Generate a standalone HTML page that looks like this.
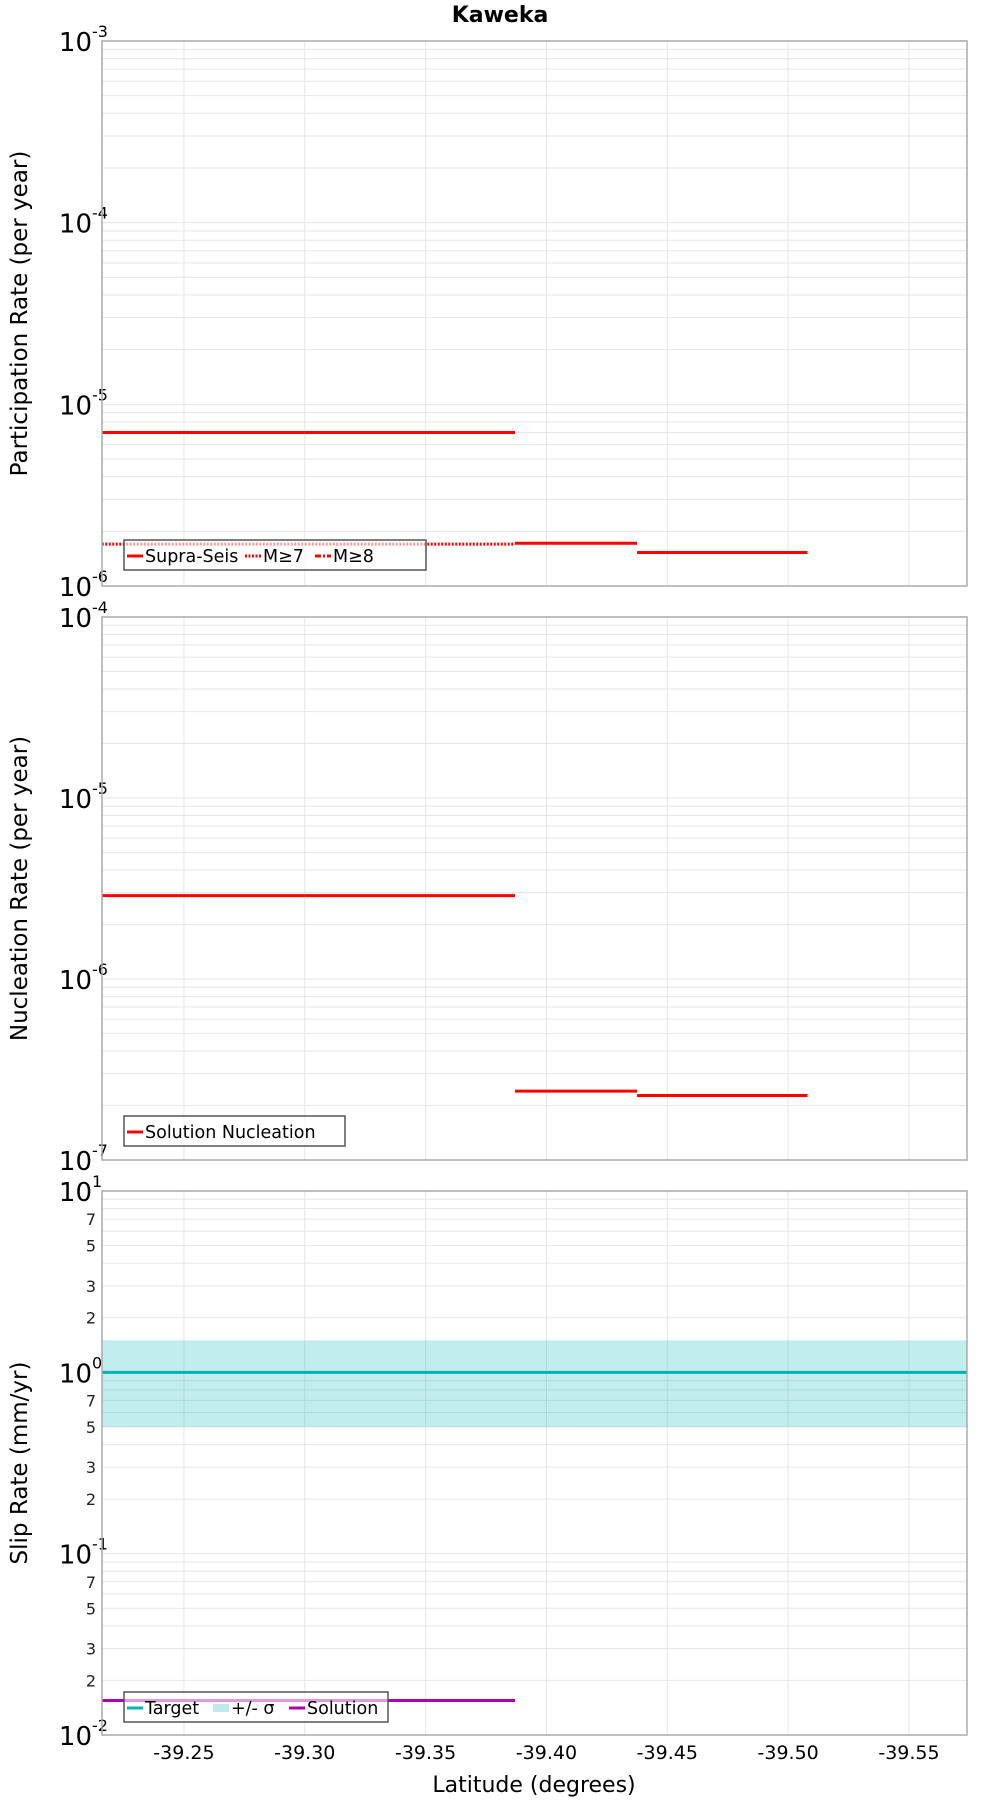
<!DOCTYPE html>
<html><head><meta charset="utf-8"><style>
body{margin:0;background:#fff;}
svg{display:block;font-family:"DejaVu Sans","Liberation Sans",sans-serif;}
</style></head><body>
<svg id="chart" width="1000" height="1800" viewBox="0 0 1000 1800" xmlns="http://www.w3.org/2000/svg">
<text x="500" y="22" text-anchor="middle" font-size="22" font-weight="bold">Kaweka</text>
<text x="534" y="1792" text-anchor="middle" font-size="22">Latitude (degrees)</text>
</svg>
<script>
// x tick values
const xTicks = [-39.25, -39.30, -39.35, -39.40, -39.45, -39.50, -39.55];
const xTickLabels = ["-39.25", "-39.30", "-39.35", "-39.40", "-39.45", "-39.50", "-39.55"];
// participation segments
const partStart = [-39.216, -39.300, -39.387, -39.4375];
const partEnd   = [-39.300, -39.387, -39.4375, -39.508];
const partRate  = [7.0e-6, 7.0e-6, 1.72e-6, 1.53e-6];
const m7Start = [-39.216];
const m7End = [-39.387];
const m7Rate = [1.70e-6];
// nucleation segments
const nuclStart = [-39.216, -39.300, -39.387, -39.4375];
const nuclEnd   = [-39.300, -39.387, -39.4375, -39.508];
const nuclRate  = [2.89e-6, 2.89e-6, 2.40e-7, 2.27e-7];
// slip
const targetSlip = [1.0];
const sigmaLow = [0.5];
const sigmaHigh = [1.5];
const solStart = [-39.216, -39.300];
const solEnd = [-39.300, -39.387];
const solSlip = [0.0155, 0.0155];

const NS = "http://www.w3.org/2000/svg";
const svg = document.getElementById('chart');
const L = 102, R = 967;
const xMin = -39.2161, xMax = -39.574;
function xs(v){ return L + (v - xMin) / (xMax - xMin) * (R - L); }
function mk(tag, attrs, parent){
  const e = document.createElementNS(NS, tag);
  for (const k in attrs) e.setAttribute(k, attrs[k]);
  (parent || svg).appendChild(e);
  return e;
}
const panels = [
  {name:'participation', top:41, bot:586, e0:-6, e1:-3, title:'Participation Rate (per year)', minorLabels:false},
  {name:'nucleation', top:617, bot:1160, e0:-7, e1:-4, title:'Nucleation Rate (per year)', minorLabels:false},
  {name:'slip', top:1191, bot:1735, e0:-2, e1:1, title:'Slip Rate (mm/yr)', minorLabels:true}
];
function ysFor(p){ return v => p.bot - (Math.log10(v) - p.e0) / (p.e1 - p.e0) * (p.bot - p.top); }

panels.forEach((p, pi) => {
  const ys = ysFor(p);
  const g = mk('g', {});
  
  
  for (let e = p.e0; e < p.e1; e++) {
    for (let m = 1; m <= 9; m++) {
      const v = m * Math.pow(10, e);
      const y = ys(v);
      const gl = mk('line', {x1:L, x2:R, y1:y, y2:y, stroke:'#e6e6e6', 'stroke-width':1}, g);
      
      
      if (p.minorLabels && [2,3,5,7].includes(m)) {
        const t = mk('text', {x:L-6, y:y+6, 'text-anchor':'end', 'font-size':16, fill:'#222'}, g);
        
        
        t.textContent = m;
      }
    }
  }
  xTicks.forEach(v => {
    const x = xs(v);
    const gl = mk('line', {x1:x, x2:x, y1:p.top, y2:p.bot, stroke:'#e6e6e6', 'stroke-width':1}, g);
    
    
  });
  for (let e = p.e0; e <= p.e1; e++) {
    const y = ys(Math.pow(10, e));
    const t = mk('text', {x:L-10, y:y+10, 'text-anchor':'end', 'font-size':26}, g);
    
    
    t.textContent = '10';
    const s = mk('text', {x:L-10, y:y-4, 'text-anchor':'start', 'font-size':16}, g);
    
    
    s.textContent = String(e);
  }
  const cy = (p.top + p.bot) / 2;
  const at = mk('text', {x:0, y:0, transform:`translate(27 ${cy}) rotate(-90)`, 'text-anchor':'middle', 'font-size':23}, g);
  
  
  at.textContent = p.title;
  p.g = g; p.ys = ys;
});

function seg(p, s, e, v, color, dash, name, w){
  const ln = mk('line', {x1:xs(s), x2:xs(e), y1:p.ys(v), y2:p.ys(v), stroke:color, 'stroke-width':w||3}, p.g);
  if (dash) ln.setAttribute('stroke-dasharray', dash);
  
  
}
const P1 = panels[0], P2 = panels[1], P3 = panels[2];
m7Start.forEach((s,i) => seg(P1, s, m7End[i], m7Rate[i], '#ff0000', '2,1.5', 'm7-segment', 3));
partStart.forEach((s,i) => seg(P1, s, partEnd[i], partRate[i], '#ff0000', null, 'supra-seis-segment', 3));
nuclStart.forEach((s,i) => seg(P2, s, nuclEnd[i], nuclRate[i], '#ff0000', null, 'nucleation-segment', 3));
const band = mk('rect', {x:L, width:R-L, y:P3.ys(sigmaHigh[0]), height:P3.ys(sigmaLow[0]) - P3.ys(sigmaHigh[0]), fill:'#00b2b2', 'fill-opacity':0.24}, P3.g);


seg(P3, xMin, xMax, targetSlip[0], '#00b2b2', null, 'target-line', 3);
solStart.forEach((s,i) => seg(P3, s, solEnd[i], solSlip[i], '#b000b0', null, 'solution-segment', 3));

panels.forEach(p => {
  const f = mk('rect', {x:L, y:p.top, width:R-L, height:p.bot-p.top, fill:'none', stroke:'#aaaaaa', 'stroke-width':1.5}, p.g);
  
  
});
xTicks.forEach((v,i) => {
  const t = mk('text', {x:xs(v), y:1759, 'text-anchor':'middle', 'font-size':19});
  
  
  t.textContent = xTickLabels[i];
});
function legend(p, x, y, w, items, name){
  const g = mk('g', {}, p.g);
  
  
  mk('rect', {x:x, y:y, width:w, height:30, fill:'rgba(255,255,255,0.6)', stroke:'#555', 'stroke-width':1.5}, g);
  let cx = x + 3;
  items.forEach(it => {
    const l = mk('line', {x1:cx, x2:cx+16, y1:y+16, y2:y+16, stroke:it.c, 'stroke-width':it.band?8:3}, g);
    if (it.dash) l.setAttribute('stroke-dasharray', it.dash);
    
    
    const t = mk('text', {x:cx+18, y:y+22, 'font-size':17.5}, g);
    
    
    t.textContent = it.t;
    cx += 18 + it.w;
  });
}
legend(P1, 124, 540, 302, [{c:'#ff0000',t:'Supra-Seis',w:100},{c:'#ff0000',t:'M≥7',dash:'2,1.5',w:52},{c:'#ff0000',t:'M≥8',dash:'6,2,2,2',w:45}], 'participation-legend');
legend(P2, 124, 1116, 221, [{c:'#ff0000',t:'Solution Nucleation',w:190}], 'nucleation-legend');
legend(P3, 124, 1692, 264, [{c:'#00b2b2',t:'Target',w:68},{c:'#bfeaea',t:'+/- σ',band:true,w:58},{c:'#b000b0',t:'Solution',w:80}], 'slip-legend');
</script>
</body></html>
